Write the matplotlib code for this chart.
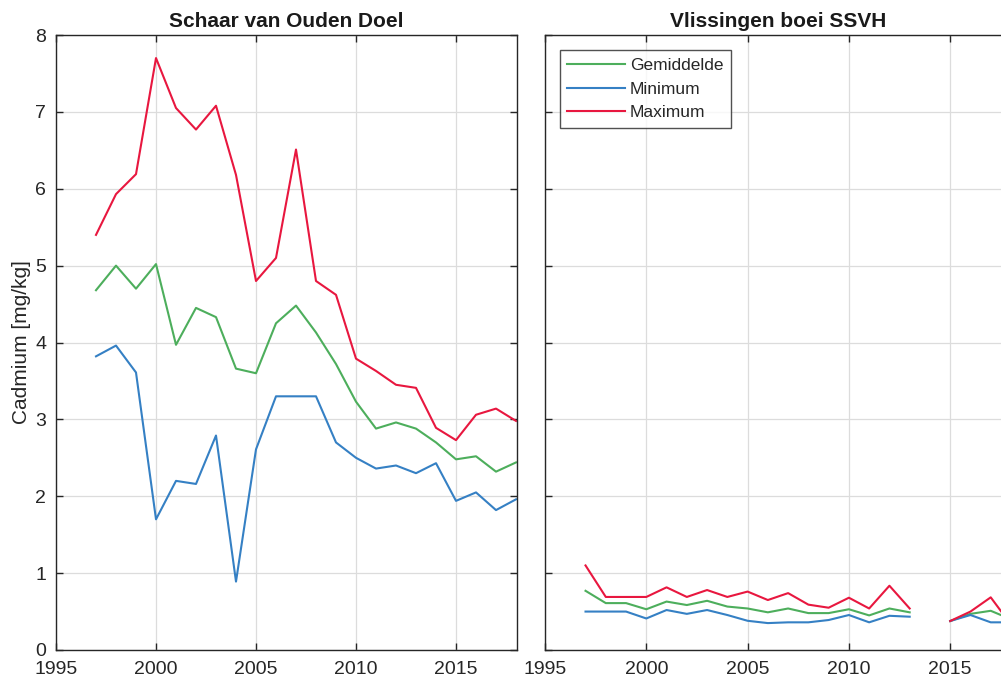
import numpy as np
import matplotlib
matplotlib.use("Agg")
import matplotlib.pyplot as plt

plt.rcParams['font.family'] = ['Liberation Sans', 'DejaVu Sans']

years = list(range(1997, 2019))

# Schaar van Ouden Doel
sod_mean = [4.68, 5.00, 4.70, 5.02, 3.97, 4.45, 4.33, 3.66, 3.60, 4.25, 4.48,
            4.13, 3.72, 3.23, 2.88, 2.96, 2.88, 2.70, 2.48, 2.52, 2.32, 2.44]
sod_min = [3.82, 3.96, 3.61, 1.70, 2.20, 2.16, 2.79, 0.89, 2.61, 3.30, 3.30,
           3.30, 2.70, 2.50, 2.36, 2.40, 2.30, 2.43, 1.94, 2.05, 1.82, 1.96]
sod_max = [5.40, 5.93, 6.19, 7.70, 7.05, 6.77, 7.08, 6.18, 4.80, 5.10, 6.51,
           4.80, 4.62, 3.79, 3.63, 3.45, 3.41, 2.89, 2.73, 3.06, 3.14, 2.98]

# Vlissingen boei SSVH (no sample in 2014)
vl_mean = [0.77, 0.61, 0.61, 0.53, 0.63, 0.585, 0.64, 0.565, 0.54, 0.49, 0.54,
           0.48, 0.48, 0.53, 0.45, 0.54, 0.49, np.nan, 0.377, 0.47, 0.51, 0.40]
vl_min = [0.50, 0.50, 0.50, 0.41, 0.52, 0.47, 0.52, 0.455, 0.38, 0.35, 0.36,
          0.36, 0.39, 0.455, 0.36, 0.445, 0.433, np.nan, 0.377, 0.455, 0.36, 0.36]
vl_max = [1.10, 0.69, 0.69, 0.69, 0.815, 0.69, 0.78, 0.69, 0.76, 0.65, 0.74,
          0.59, 0.55, 0.68, 0.54, 0.836, 0.54, np.nan, 0.377, 0.50, 0.685, 0.33]

titles = ["Schaar van Ouden Doel", "Vlissingen boei SSVH"]
series_labels = ["Gemiddelde", "Minimum", "Maximum"]
colors = ["#4dae5c", "#3580c4", "#e8173f"]
x_ticks = [1995, 2000, 2005, 2010, 2015, 2020]
y_ticks = list(range(0, 9))

W, H = 1001, 681
fig = plt.figure(figsize=(W / 100, H / 100), dpi=100)
ax_h = 615 / H
ax_b = 31 / H
ax1 = fig.add_axes([56 / W, ax_b, 461 / W, ax_h])
ax2 = fig.add_axes([545 / W, ax_b, 467 / W, ax_h])

frame_col = "#262626"
for ax, title, data in [(ax1, titles[0], (sod_mean, sod_min, sod_max)),
                        (ax2, titles[1], (vl_mean, vl_min, vl_max))]:
    for vals, lab, col in zip(data, series_labels, colors):
        ax.plot(years, vals, color=col, lw=1.5, label=lab)
    ax.set_xticks(x_ticks)
    ax.set_yticks(y_ticks)
    ax.set_xlim(1995, 2018.05)
    ax.set_ylim(0, 8)
    ax.grid(True, color="#dcdcdc", lw=0.9)
    ax.set_axisbelow(True)
    ax.tick_params(direction="in", length=5, width=1, colors=frame_col,
                   labelcolor="#262626", labelsize=14, top=True, right=True)
    ax.tick_params(axis="x", pad=8)
    ax.tick_params(axis="y", pad=7)
    for sp in ax.spines.values():
        sp.set_color(frame_col)
        sp.set_linewidth(1.0)
    ax.set_title(title, fontsize=15, fontweight="bold", pad=6,
                 color="#1a1a1a")

ax2.tick_params(labelleft=False)
ax1.set_ylabel("Cadmium [mg/kg]", fontsize=15, color="#262626", labelpad=3)

leg = ax2.legend(loc="upper left", bbox_to_anchor=(0.032, 0.975),
                 fontsize=12.5, frameon=True, fancybox=False, handlelength=3.3,
                 handletextpad=0.3, labelspacing=0.5, borderpad=0.42,
                 borderaxespad=0.0)
leg.get_frame().set_edgecolor(frame_col)
leg.get_frame().set_linewidth(1.0)
for t in leg.get_texts():
    t.set_color("#262626")

fig.savefig("out.png", dpi=100)
